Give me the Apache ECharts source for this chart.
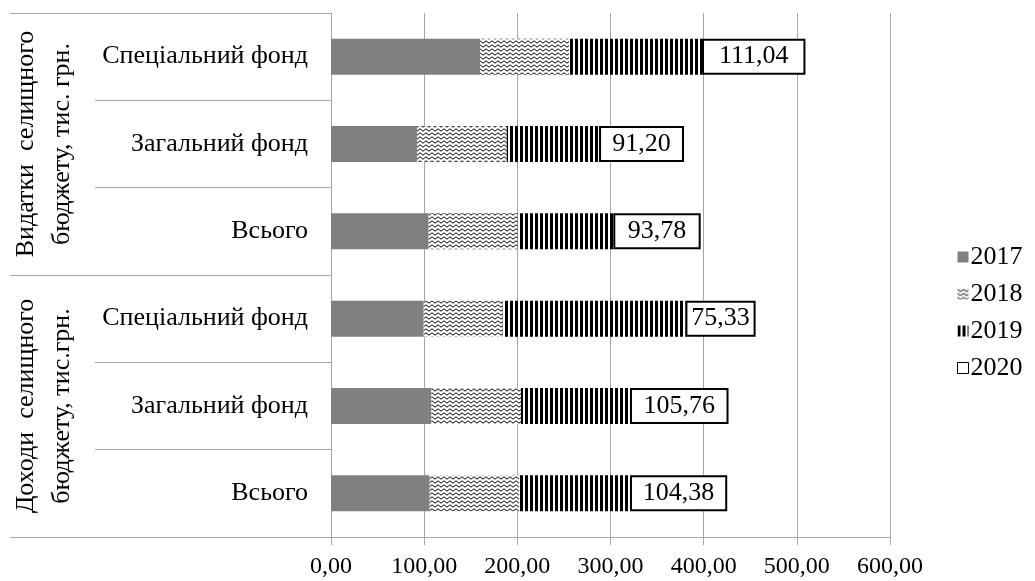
<!DOCTYPE html>
<html>
<head>
<meta charset="utf-8">
<script src="https://cdn.jsdelivr.net/npm/echarts@6/dist/echarts.min.js"></script>
<style>
  html, body { margin: 0; padding: 0; background: #fff; }
  #chart { width: 1035px; height: 581px; }
</style>
</head>
<body>
<div id="chart"></div>
<script>
// Budget rows, top to bottom
const categories = ['Спеціальний фонд', 'Загальний фонд', 'Всього', 'Спеціальний фонд', 'Загальний фонд', 'Всього'];
const groups = ['Видатки  селищного\nбюджету, тис. грн.', 'Доходи  селищного\nбюджету, тис.грн.'];
const years = ['2017', '2018', '2019', '2020'];

const values2017 = [160.1, 92.3, 104.8, 99.5, 107.7, 105.9];
const values2018 = [95.5, 96.3, 95.6, 84.8, 96.2, 96.2];
const values2019 = [142.6, 99.1, 102.6, 196.1, 117.0, 118.8];
const values2020 = [111.04, 91.20, 93.78, 75.33, 105.76, 104.38];

const xTicks = { min: 0, max: 600, step: 100 };

const FONT = "'Liberation Serif', 'Times New Roman', serif";
const GRID_GRAY = '#A6A6A6';

// Fill patterns for the 2018 (zigzag) and 2019 (vertical stripes) segments
function zigzagPattern() {
  const c = document.createElement('canvas');
  c.width = 6; c.height = 4;
  const g = c.getContext('2d');
  g.fillStyle = '#fff';
  g.fillRect(0, 0, 6, 4);
  g.strokeStyle = '#000';
  g.lineWidth = 1;
  g.beginPath();
  g.moveTo(0, 0.8);
  g.lineTo(3, 3.2);
  g.lineTo(6, 0.8);
  g.stroke();
  return c;
}
function stripePattern() {
  const c = document.createElement('canvas');
  c.width = 5; c.height = 4;
  const g = c.getContext('2d');
  g.fillStyle = '#fff';
  g.fillRect(0, 0, 5, 4);
  g.fillStyle = '#000';
  g.fillRect(0, 0, 3, 4);
  return c;
}

const fills = [
  '#808080',
  { image: zigzagPattern(), repeat: 'repeat' },
  { image: stripePattern(), repeat: 'repeat' },
  '#ffffff'
];
const seriesValues = [values2017, values2018, values2019, values2020];

const fmt = v => v.toFixed(2).replace('.', ',');

const series = years.map((y, i) => {
  const s = {
    name: y,
    type: 'bar',
    stack: 'total',
    barWidth: 36,
    yAxisIndex: 0,
    data: seriesValues[i],
    itemStyle: { color: fills[i] },
    emphasis: { disabled: true },
    animation: false
  };
  if (i === 3) {
    s.itemStyle.borderColor = '#000';
    s.itemStyle.borderWidth = 2;
    s.label = {
      show: true,
      position: 'inside',
      formatter: p => fmt(p.value),
      fontFamily: FONT,
      fontSize: 26,
      color: '#000'
    };
  }
  return s;
});

const chart = echarts.init(document.getElementById('chart'), null, { renderer: 'canvas' });
chart.setOption({
  backgroundColor: '#ffffff',
  animation: false,
  textStyle: { fontFamily: FONT, color: '#000' },
  grid: { left: 331, right: 145, top: 13, bottom: 44, containLabel: false },
  legend: {
    orient: 'vertical',
    left: 952,
    top: 239,
    itemWidth: 11,
    itemHeight: 11,
    itemGap: 11,
    icon: 'rect',
    selectedMode: false,
    textStyle: { fontFamily: FONT, fontSize: 26, color: '#000', padding: [0, 0, 0, -3] },
    data: years.map((y, i) => i === 3
      ? { name: y, itemStyle: { borderWidth: 1, borderColor: '#000' } }
      : { name: y })
  },
  xAxis: {
    type: 'value',
    min: xTicks.min,
    max: xTicks.max,
    interval: xTicks.step,
    axisLine: { show: true, lineStyle: { color: GRID_GRAY, width: 1 } },
    axisTick: { show: true, length: 8, lineStyle: { color: GRID_GRAY } },
    splitLine: { show: true, lineStyle: { color: GRID_GRAY, width: 1 } },
    axisLabel: {
      fontFamily: FONT, fontSize: 24, color: '#000', margin: 18,
      formatter: v => fmt(v)
    }
  },
  yAxis: [
    {
      type: 'category',
      inverse: true,
      data: categories,
      axisLine: { show: true, lineStyle: { color: GRID_GRAY, width: 1 } },
      axisTick: { show: true, length: 236, lineStyle: { color: GRID_GRAY } },
      axisLabel: { interval: 0, fontFamily: FONT, fontSize: 26, color: '#000', margin: 23 }
    },
    {
      type: 'category',
      inverse: true,
      position: 'left',
      data: groups,
      axisLine: { show: false },
      axisTick: { show: true, length: 321, lineStyle: { color: GRID_GRAY } },
      axisLabel: {
        interval: 0, rotate: 90, fontFamily: FONT, fontSize: 26,
        lineHeight: 36, color: '#000', margin: 251
      }
    }
  ],
  series: series
});
</script>
</body>
</html>
